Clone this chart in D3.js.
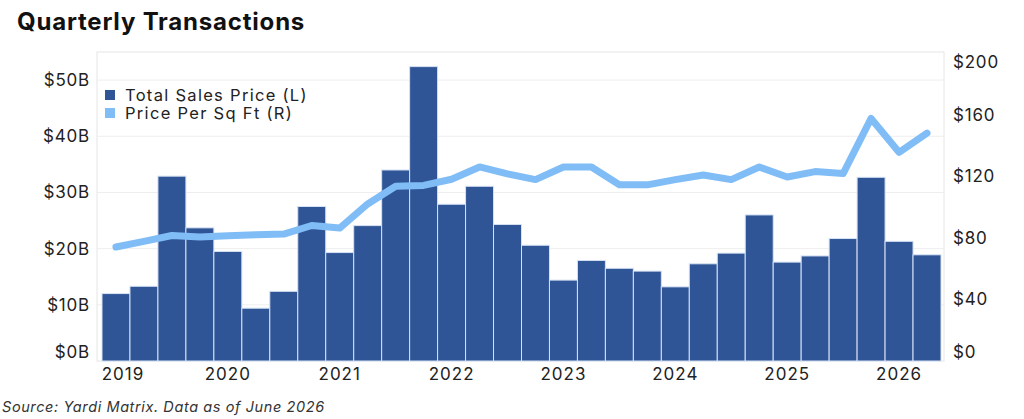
<!DOCTYPE html>
<html>
<head>
  <meta charset="utf-8">
  <title>Quarterly Transactions</title>
  <script src="https://d3js.org/d3.v7.min.js"></script>
  <style>
    body { margin: 0; background: #fff; }
    svg { display: block; font-family: Inter, "Open Sans", sans-serif; }
  </style>
</head>
<body>
  <svg width="1024" height="419"></svg>

  <script>
    // quarters Q1 2019 .. Q2 2026
    const years = [2019, 2020, 2021, 2022, 2023, 2024, 2025, 2026];
    const quarters = [];
    years.forEach(y => [1, 2, 3, 4].forEach(q => quarters.push(y + "Q" + q)));
    quarters.length = 30;

    // total sales price, $B (left axis)
    const totalSales = [12.0, 13.3, 32.9, 23.7, 19.5, 9.4, 12.4, 27.5, 19.3, 24.1,
      34.0, 52.4, 27.9, 31.1, 24.3, 20.6, 14.4, 17.9, 16.5, 16.0,
      13.2, 17.3, 19.2, 26.0, 17.6, 18.7, 21.8, 32.7, 21.3, 18.9];

    // price per sq ft, $ (right axis)
    const pricePerSqFt = [74, 77.7, 81.5, 80.5, 81.3, 82, 82.4, 88, 86.3, 102,
      113.5, 114, 118, 126, 121.5, 117.8, 126, 126, 114.4, 114.4,
      117.8, 120.8, 117.8, 126, 119.5, 123, 121.7, 157.5, 135.5, 148];

    const leftTicks = [0, 10, 20, 30, 40, 50];
    const rightTicks = [0, 40, 80, 120, 160, 200];

    const svg = d3.select("svg");

    const plot = { left: 97, right: 944, top: 52, bottom: 361 };

    const x = d3.scaleBand()
      .domain(quarters)
      .range([102, 941])
      .padding(0);

    const yL = d3.scaleLinear().domain([0, 55]).range([plot.bottom, plot.top]);
    const yR = d3.scaleLinear().domain([0, 200]).range([plot.bottom, plot.top + 1]);

    // title
    svg.append("text")
      .attr("x", 17).attr("y", 30)
      .attr("font-size", 24).attr("font-weight", 700)
      .attr("letter-spacing", 0.8)
      .attr("fill", "#111")
      .text("Quarterly Transactions");

    // frame
    svg.append("rect")
      .attr("x", plot.left).attr("y", plot.top)
      .attr("width", plot.right - plot.left).attr("height", plot.bottom - plot.top)
      .attr("fill", "none").attr("stroke", "#e6e6e6");

    // gridlines
    svg.append("g").selectAll("line")
      .data(leftTicks.slice(1))
      .join("line")
      .attr("x1", plot.left).attr("x2", plot.right)
      .attr("y1", d => yL(d)).attr("y2", d => yL(d))
      .attr("stroke", "#eeeeee");

    // bars
    svg.append("g").selectAll("rect")
      .data(totalSales)
      .join("rect")
      .attr("x", (d, i) => x(quarters[i]))
      .attr("width", x.bandwidth())
      .attr("y", d => yL(d))
      .attr("height", d => yL(0) - yL(d))
      .attr("fill", "#2f5597")
      .attr("stroke", "#d6e2f3")
      .attr("stroke-width", 1);

    // line
    const line = d3.line()
      .x((d, i) => x(quarters[i]) + x.bandwidth() / 2)
      .y(d => yR(d));

    svg.append("path")
      .datum(pricePerSqFt)
      .attr("d", line)
      .attr("fill", "none")
      .attr("stroke", "#80bdf6")
      .attr("stroke-width", 7)
      .attr("stroke-linejoin", "round")
      .attr("stroke-linecap", "round");

    // left axis
    const axL = svg.append("g")
      .attr("transform", `translate(${plot.left},0)`)
      .call(d3.axisLeft(yL).tickValues(leftTicks).tickSize(0).tickPadding(7)
        .tickFormat(d => "$" + d + "B"));
    axL.select(".domain").remove();
    axL.selectAll("text").attr("font-size", 17).attr("fill", "#222")
      .attr("font-family", "Inter, sans-serif")
      .attr("letter-spacing", 0.8)
      .attr("dy", d => d === 0 ? "-0.2em" : "0.32em");

    // right axis
    const axR = svg.append("g")
      .attr("transform", `translate(${plot.right},0)`)
      .call(d3.axisRight(yR).tickValues(rightTicks).tickSize(0).tickPadding(9)
        .tickFormat(d => "$" + d));
    axR.select(".domain").remove();
    axR.selectAll("text").attr("font-size", 17).attr("fill", "#222")
      .attr("font-family", "Inter, sans-serif")
      .attr("letter-spacing", 0.8)
      .attr("dy", d => d === 0 ? "-0.2em" : d === 200 ? "0.85em" : "0.32em");

    // bottom axis: year at Q1
    const axB = svg.append("g")
      .attr("transform", `translate(0,${plot.bottom})`)
      .call(d3.axisBottom(x).tickValues(years.map(y => y + "Q1")).tickSize(0).tickPadding(7)
        .tickFormat(d => d.slice(0, 4)));
    axB.select(".domain").remove();
    axB.selectAll("text").attr("font-size", 17).attr("fill", "#222")
      .attr("font-family", "Inter, sans-serif")
      .attr("letter-spacing", 1);
    axB.selectAll(".tick").filter(d => d === "2019Q1").select("text")
      .attr("dx", 7);

    // legend
    const legend = svg.append("g").attr("transform", "translate(105,87)");
    const items = [
      { label: "Total Sales Price (L)", color: "#2f5597" },
      { label: "Price Per Sq Ft (R)", color: "#80bdf6" }
    ];
    items.forEach((it, i) => {
      legend.append("rect")
        .attr("x", 0).attr("y", i * 18 + 3)
        .attr("width", 10).attr("height", 10)
        .attr("fill", it.color);
      legend.append("text")
        .attr("x", 20).attr("y", i * 18 + 8)
        .attr("dy", "0.35em")
        .attr("font-size", 16.5).attr("fill", "#222")
        .attr("letter-spacing", 1.3)
        .text(it.label);
    });

    // source
    svg.append("text")
      .attr("x", 2).attr("y", 412)
      .attr("font-size", 14.5).attr("font-style", "italic")
      .attr("letter-spacing", 0.6)
      .attr("fill", "#333")
      .text("Source: Yardi Matrix. Data as of June 2026");
  </script>
</body>
</html>
